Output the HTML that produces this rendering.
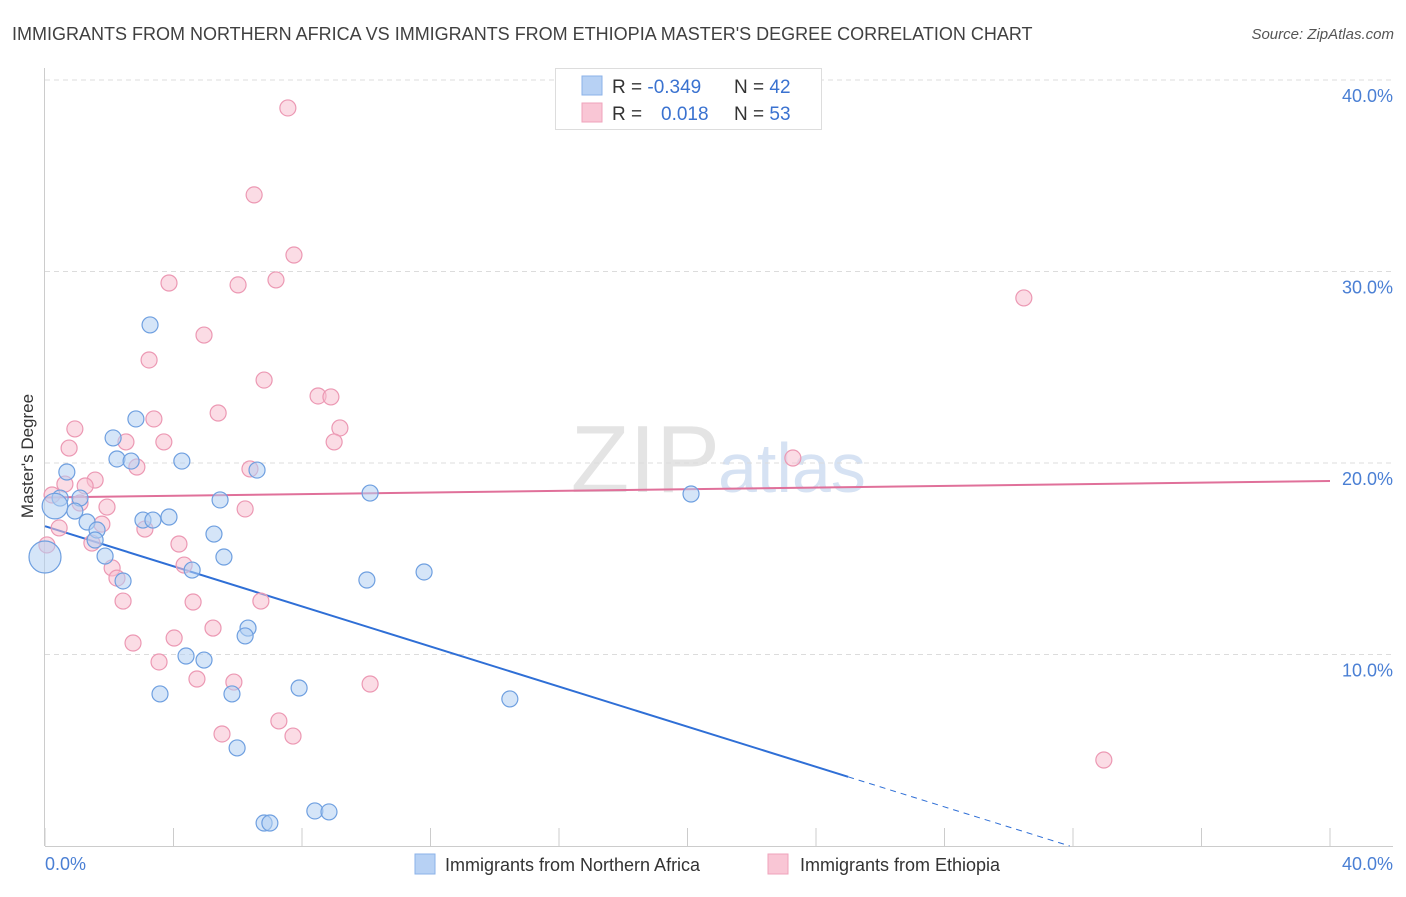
<!DOCTYPE html>
<html><head><meta charset="utf-8"><style>
body{margin:0;background:#fff;font-family:"Liberation Sans",sans-serif;}
svg text{font-family:"Liberation Sans",sans-serif;}
</style></head><body>
<svg id="chart" width="1406" height="892" xmlns="http://www.w3.org/2000/svg">
<text x="12" y="40" font-size="18" fill="#404040">IMMIGRANTS FROM NORTHERN AFRICA VS IMMIGRANTS FROM ETHIOPIA MASTER'S DEGREE CORRELATION CHART</text>
<text x="1394" y="39" font-size="15" fill="#555" font-style="italic" text-anchor="end">Source: ZipAtlas.com</text>
<text x="720" y="492" font-size="96" fill="#e4e4e4" text-anchor="end" font-family="Liberation Serif">ZIP</text>
<text x="718" y="492" font-size="70" fill="#d6e2f3">atlas</text>
<g id="grid"></g><g id="axes"></g><g id="trend"></g><g id="pts"></g>
<text x="33" y="456" font-size="17" fill="#333" text-anchor="middle" transform="rotate(-90 33 456)">Master's Degree</text>
<text x="45" y="870" font-size="18" fill="#4a7fd4">0.0%</text>
<text x="1393" y="870" font-size="18" fill="#4a7fd4" text-anchor="end">40.0%</text>
<g>
<rect x="555.5" y="68.5" width="266" height="61" fill="#fff" stroke="#ddd"/>
<rect x="582" y="76" width="20" height="19" fill="#b7d1f4" stroke="#8bb2e8"/>
<rect x="582" y="103" width="20" height="19" fill="#f9c6d5" stroke="#efa3bb"/>
<text x="612" y="93" font-size="19" fill="#333">R = <tspan fill="#3a72d0">-0.349</tspan></text>
<text x="734" y="93" font-size="19" fill="#333">N = <tspan fill="#3a72d0">42</tspan></text>
<text x="612" y="120" font-size="19" fill="#333">R = </text>
<text x="661" y="120" font-size="19" fill="#3a72d0">0.018</text>
<text x="734" y="120" font-size="19" fill="#333">N = <tspan fill="#3a72d0">53</tspan></text>
</g>
<g>
<rect x="415" y="854" width="20" height="20" fill="#b7d1f4" stroke="#8bb2e8"/>
<text x="445" y="871" font-size="18" fill="#333">Immigrants from Northern Africa</text>
<rect x="768" y="854" width="20" height="20" fill="#f9c6d5" stroke="#efa3bb"/>
<text x="800" y="871" font-size="18" fill="#333">Immigrants from Ethiopia</text>
</g>
</svg>
<script>
const yTicks=[10,20,30,40];
const yTickLabels=["10.0%","20.0%","30.0%","40.0%"];
const blueX=[0.68,0.47,1.09,0.93,1.31,1.62,1.56,1.87,2.43,2.12,2.24,2.68,2.83,3.27,3.05,3.36,3.86,4.26,4.58,5.45,5.26,5.57,6.32,6.23,4.39,4.95,3.58,5.82,7.91,5.98,6.60,10.12,10.02,11.80,14.47,20.11,6.82,7.00,8.40,8.84,0,0.31];
const blueY=[19.53,18.17,18.17,17.49,16.92,16.50,15.98,15.14,13.84,21.31,20.21,20.10,22.30,27.21,17.02,17.02,17.18,20.10,14.41,18.07,16.29,15.09,11.38,10.97,9.92,9.71,7.94,7.94,8.25,5.12,19.63,18.43,13.89,14.31,7.68,18.38,1.20,1.20,1.83,1.78,15.09,17.75];
const blueSize=[1,1,1,1,1,1,1,1,1,1,1,1,1,1,1,1,1,1,1,1,1,1,1,1,1,1,1,1,1,1,1,1,1,1,1,1,1,1,1,1,2,1.6];
const pinkX=[7.56,6.51,7.75,3.86,6.01,7.19,4.95,3.24,6.82,5.39,3.39,8.50,8.90,9.18,9.00,0.93,0.75,2.52,3.70,2.86,6.38,1.56,1.25,0.62,1.09,1.93,1.77,0.44,1.46,3.11,6.23,4.17,4.33,2.09,2.24,2.43,4.61,6.72,5.23,2.74,4.02,3.55,4.73,5.88,10.12,7.28,5.51,7.72,23.28,30.47,32.96,0.22,0.06];
const pinkY=[38.54,34.00,30.86,29.40,29.30,29.56,26.68,25.38,24.33,22.61,22.30,23.50,23.45,21.83,21.10,21.78,20.78,21.10,21.10,19.79,19.69,19.11,18.80,18.90,17.91,17.70,16.81,16.61,15.82,16.55,17.60,15.77,14.67,14.52,13.99,12.79,12.74,12.79,11.38,10.60,10.86,9.61,8.72,8.56,8.46,6.53,5.85,5.74,20.26,28.62,4.49,18.33,15.72];
const blueTrend=[16.7,-0.5235]; // intercept, slope
const blueSolidEnd=25.0, blueDashEnd=31.9;
const pinkTrend=[18.2,0.0215];
const NS="http://www.w3.org/2000/svg";
const X=v=>45+v*32.125, Y=v=>846-v*19.15;
function mk(tag,attrs,parent){const e=document.createElementNS(NS,tag);for(const k in attrs)e.setAttribute(k,attrs[k]);parent.appendChild(e);return e;}
const grid=document.getElementById('grid'),axes=document.getElementById('axes'),trend=document.getElementById('trend'),pts=document.getElementById('pts');
yTicks.forEach((t,i)=>{
 const l=mk('line',{x1:45,x2:1393,y1:Y(t),y2:Y(t),stroke:'#dcdcdc','stroke-dasharray':'5,4'},grid);
 
 
 const tx=mk('text',{x:1393,y:Y(t)+22,'font-size':18,fill:'#4a7fd4','text-anchor':'end'},grid);
 tx.textContent=yTickLabels[i];
 
 
});
let a=mk('line',{x1:44.5,x2:44.5,y1:68,y2:846,stroke:'#ccc'},axes);


a=mk('line',{x1:45,x2:1393,y1:846.5,y2:846.5,stroke:'#ccc'},axes);


for(let i=0;i<=10;i++){const t=mk('line',{x1:X(i*4),x2:X(i*4),y1:828,y2:846,stroke:'#ccc'},axes);
 
 }
function dot(x,y,s,fill,stroke,name){const c=mk('circle',{cx:X(x),cy:Y(y),r:8*s,fill:fill,'fill-opacity':0.55,stroke:stroke,'stroke-width':1.2},pts);
 
 }
pinkX.forEach((x,i)=>dot(x,pinkY[i],1,'#f7bfd0','#ec98b3','point-ethiopia'));
blueX.forEach((x,i)=>dot(x,blueY[i],blueSize[i],'#b3cff3','#6e9fe0','point-northern-africa'));
let t=mk('line',{x1:X(0),y1:Y(blueTrend[0]),x2:X(blueSolidEnd),y2:Y(blueTrend[0]+blueTrend[1]*blueSolidEnd),stroke:'#2f6fd6','stroke-width':2},trend);


t=mk('line',{x1:X(blueSolidEnd),y1:Y(blueTrend[0]+blueTrend[1]*blueSolidEnd),x2:X(blueDashEnd),y2:Y(blueTrend[0]+blueTrend[1]*blueDashEnd),stroke:'#2f6fd6','stroke-width':1,'stroke-dasharray':'6,5'},trend);


t=mk('line',{x1:X(0),y1:Y(pinkTrend[0]),x2:X(40),y2:Y(pinkTrend[0]+pinkTrend[1]*40),stroke:'#e0709a','stroke-width':2},trend);


</script>
</body></html>
